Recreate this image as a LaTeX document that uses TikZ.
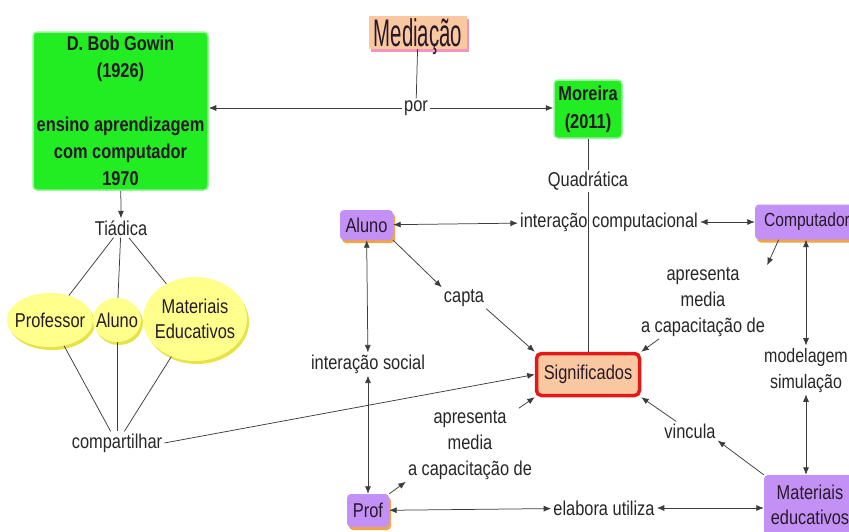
\documentclass[tikz,border=0pt]{standalone}
\usepackage{fontspec}
\setmainfont[FakeStretch=0.82]{Liberation Sans}
\newfontfamily\titlefont[FakeStretch=0.53]{Liberation Sans}
\usetikzlibrary{arrows.meta,shapes.geometric,shadows}

\definecolor{gowingreen}{RGB}{34,236,34}
\definecolor{glow}{RGB}{150,245,150}
\definecolor{lavender}{RGB}{195,145,245}
\definecolor{amber}{RGB}{240,165,70}
\definecolor{peach}{RGB}{250,200,160}
\definecolor{rosy}{RGB}{240,150,190}
\definecolor{signred}{RGB}{225,25,25}
\definecolor{lemon}{RGB}{255,255,140}
\definecolor{mustard}{RGB}{232,226,70}
\definecolor{inkdark}{RGB}{40,25,40}
\definecolor{wire}{RGB}{60,60,60}

\tikzset{
  every node/.style={font=\fontsize{20}{26}\selectfont, text=inkdark},
  phrase/.style={align=center, inner sep=2pt, text=black!85},
  greenbox/.style={rectangle, rounded corners=4pt, fill=gowingreen, draw=glow,
    line width=1.5pt, align=center, font=\fontsize{20}{27}\selectfont\bfseries},
  purplebox/.style={rectangle, rounded corners=4pt, fill=lavender, align=center,
    inner sep=2pt, drop shadow={fill=amber, shadow xshift=2pt, shadow yshift=-3pt, opacity=1}},
  bubble/.style={ellipse, fill=lemon, inner sep=0pt,
    drop shadow={fill=mustard, shadow xshift=2pt, shadow yshift=-3pt, opacity=1}},
  link/.style={draw=wire, line width=0.75pt},
  arr/.style={link, -{Latex[length=7.5pt,width=6pt]}},
  biarr/.style={link, {Latex[length=7.5pt,width=6pt]}-{Latex[length=7.5pt,width=6pt]}},
}

\begin{document}
\begin{tikzpicture}[x=1pt, y=-1pt]
\useasboundingbox (0,0) rectangle (849,531);

% concepts
\node[rectangle, fill=peach, minimum width=98pt, minimum height=33pt, inner sep=0pt,
  text height=28pt, text depth=0pt,
  drop shadow={fill=rosy, shadow xshift=2pt, shadow yshift=-3pt, opacity=1},
  font=\fontsize{38.5}{38.5}\titlefont] (med) at (418,32.5) {Mediação};

\node[greenbox, minimum width=175pt, minimum height=158pt] (gowin) at (120.5,111)
  {D. Bob Gowin\\(1926)\\[27pt]ensino aprendizagem\\com computador\\1970};
\node[greenbox, minimum width=68pt, minimum height=58pt, font=\fontsize{20}{28}\selectfont\bfseries]
  (moreira) at (588,109) {Moreira\\(2011)};

\node[purplebox, minimum width=53pt, minimum height=30pt] (alunoP) at (366.5,225) {Aluno};
\node[purplebox, minimum width=104pt, minimum height=35pt, font=\fontsize{19}{24}\selectfont]
  (comp) at (807,222) {Computador};
\node[purplebox, minimum width=42pt, minimum height=33pt] (prof) at (368,510.5) {Prof};
\node[purplebox, minimum width=92pt, minimum height=60pt, font=\fontsize{20}{25}\selectfont]
  (mated) at (810,505) {Materiais\\educativos};

\node[rectangle, rounded corners=5pt, fill=peach, draw=signred, line width=3.5pt,
  minimum width=103pt, minimum height=42pt] (signif) at (588,374.5) {Significados};

\node[bubble, minimum width=86pt, minimum height=54pt, label=center:Professor] (profE) at (50,320) {};
\node[bubble, minimum width=48pt, minimum height=44pt, label=center:Aluno] (alunoE) at (117,320) {};
\node[bubble, minimum width=104pt, minimum height=84pt,
  label={[align=center, font=\fontsize{20}{25}\selectfont]center:Materiais\\Educativos}] (matE) at (195,319) {};

% linking phrases
\node[phrase] (por) at (416,108) {por};
\node[phrase] (tiadica) at (121,228) {Tiádica};
\node[phrase] (quad) at (588,181) {Quadrática};
\node[phrase] (intcomp) at (609,222) {interação computacional};
\node[phrase] (capta) at (464,298) {capta};
\node[phrase] (intsoc) at (368,364) {interação social};
\node[phrase] (compart) at (117,443) {compartilhar};
\node[phrase] (aprL) at (470,445) {apresenta\\media\\a capacitação de};
\node[phrase] (aprR) at (703,302) {apresenta\\media\\a capacitação de};
\node[phrase, font=\fontsize{19.5}{26}\selectfont] (modsim) at (806,370) {modelagem\\simulação};
\node[phrase] (vincula) at (690,431) {vincula};
\node[phrase] (elabora) at (604,508) {elabora utiliza};

% connectors
\draw[link] (med) -- (por);
\draw[arr] (por) -- (gowin.east |- por);
\draw[arr] (por) -- (moreira.west |- por);
\draw[link] (moreira) -- (quad);
\draw[link] (quad) -- (signif);

\draw[arr] (gowin) -- (tiadica);
\draw[link] (tiadica) -- (profE);
\draw[link] (tiadica) -- (alunoE);
\draw[link] (tiadica) -- (matE);
\draw[link] (profE) -- (compart);
\draw[link] (alunoE) -- (compart);
\draw[link] (matE) -- (compart);
\draw[arr] (compart.east) -- (signif.west);

\draw[biarr] (alunoP) -- (intcomp);
\draw[biarr] (intcomp) -- (comp);
\draw[arr] (comp.212) -- (aprR.north east);
\draw[arr] (aprR.220) -- (signif.north east);
\draw[biarr] (comp.south -| modsim) -- (modsim);
\draw[biarr] (modsim) -- (mated.north -| modsim);
\draw[arr] (mated.north west) -- (vincula.south east);
\draw[arr] (vincula) -- (signif.south east);

\draw[arr] (alunoP.south east) -- (capta.north west);
\draw[arr] (capta.south east) -- (signif.north west);
\draw[biarr] (alunoP) -- (intsoc);
\draw[biarr] (intsoc) -- (prof);
\draw[biarr] (prof) -- (elabora);
\draw[biarr] (elabora) -- (mated.west |- elabora);
\draw[arr] (prof.north east) -- (aprL.south west);
\draw[arr] (aprL.37) -- (signif.south west);
\end{tikzpicture}
\end{document}
